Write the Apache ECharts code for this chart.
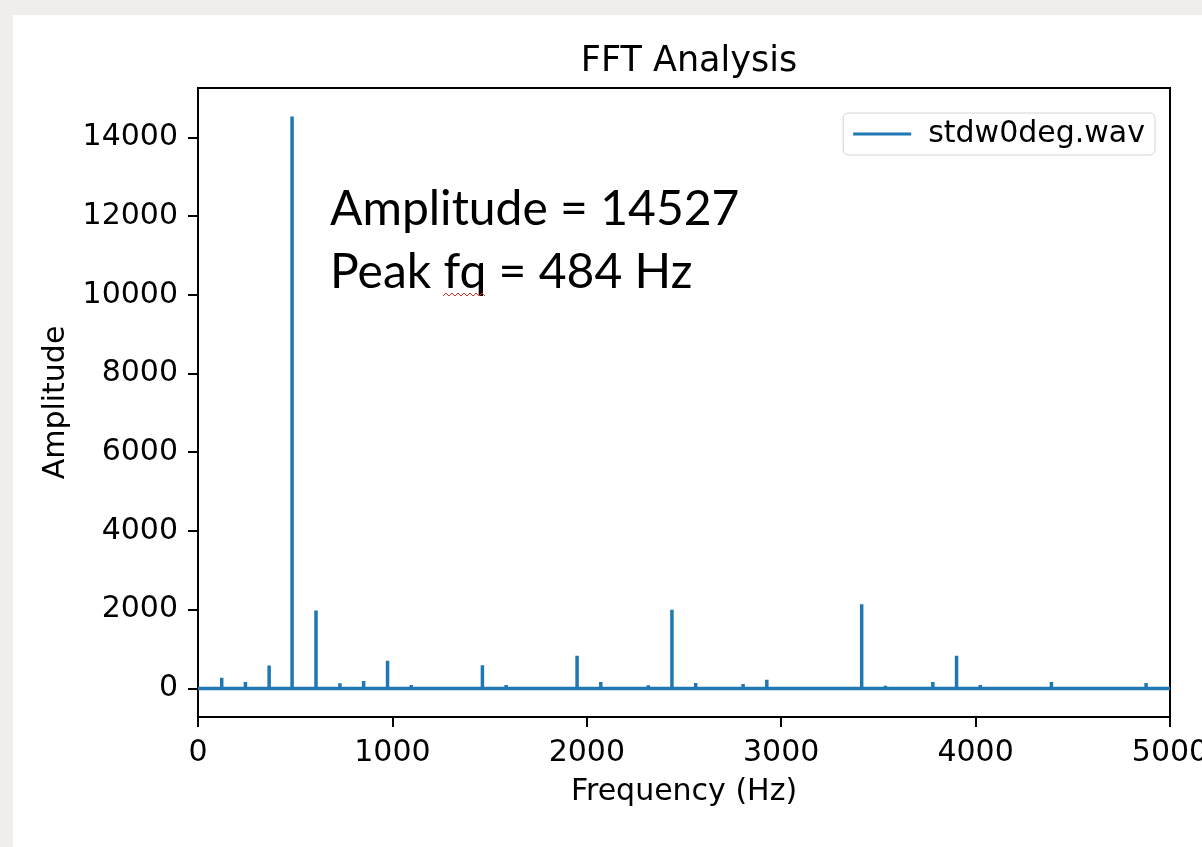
<!DOCTYPE html>
<html>
<head>
<meta charset="utf-8">
<title>FFT Analysis</title>
<script src="https://cdn.jsdelivr.net/npm/echarts@6/dist/echarts.min.js"></script>
<style>
  html, body { margin: 0; padding: 0; }
  #chart { width: 1202px; height: 847px; }
</style>
</head>
<body>
<div id="chart"></div>
<script>
// peak frequencies (Hz) and their amplitudes
const peakFreqs = [122, 244, 366, 484, 607, 730, 852, 975, 1097, 1463, 1585, 1829, 1950, 2072,
  2316, 2438, 2560, 2804, 2926, 3048, 3292, 3414, 3536, 3780, 3902, 4024, 4390, 4877];
const peakAmps = [270, 160, 580, 14527, 1980, 130, 190, 700, 90, 590, 90, 50, 830, 160,
  80, 2000, 140, 110, 220, 50, 40, 2140, 70, 160, 830, 90, 160, 140];
const freqRange = [0, 5000];
const ampRange = [-726, 15253];
const seriesName = 'stdw0deg.wav';
const noteLines = ['Amplitude = 14527', 'Peak fq = 484 Hz'];

// each peak is a vertical stroke rising from the zero line
const spectrum = [[freqRange[0], 0]];
peakFreqs.forEach((f, i) => {
  spectrum.push([f, 0], [f, peakAmps[i]], [f, 0]);
});
spectrum.push([freqRange[1], 0]);

const chart = echarts.init(document.getElementById('chart'), null, { renderer: 'canvas' });
const axisFont = { fontFamily: 'DejaVu Sans', fontSize: 30, color: '#000' };
const plain = v => String(v);

chart.setOption({
  backgroundColor: '#efeeea',
  animation: false,
  title: {
    text: 'FFT Analysis',
    left: 684,
    top: 39,
    textAlign: 'center',
    textStyle: { fontFamily: 'DejaVu Sans', fontSize: 35, fontWeight: 'normal', color: '#000' }
  },
  legend: {
    data: [{ name: seriesName, icon: 'rect' }],
    right: 47,
    top: 113,
    padding: [6, 10, 6, 10],
    itemWidth: 58,
    itemHeight: 3,
    backgroundColor: '#fff',
    borderColor: '#d4d4d4',
    borderWidth: 1,
    borderRadius: 5,
    textStyle: { fontFamily: 'DejaVu Sans', fontSize: 30, color: '#000', padding: [0, 0, 0, 12] }
  },
  grid: {
    left: 198,
    right: 32,
    top: 88,
    bottom: 130,
    outerBoundsMode: 'none',
    containLabel: false,
    show: true,
    backgroundColor: '#fff',
    borderColor: '#000',
    borderWidth: 2
  },
  xAxis: {
    type: 'value',
    min: freqRange[0],
    max: freqRange[1],
    interval: 1000,
    name: 'Frequency (Hz)',
    nameLocation: 'middle',
    nameGap: 60,
    nameTextStyle: axisFont,
    axisLine: { onZero: false, lineStyle: { color: '#000', width: 2 } },
    axisTick: { length: 10, lineStyle: { color: '#000', width: 2 } },
    axisLabel: Object.assign({ margin: 21, formatter: plain }, axisFont),
    splitLine: { show: false }
  },
  yAxis: {
    type: 'value',
    min: ampRange[0],
    max: ampRange[1],
    splitNumber: 8,
    name: 'Amplitude',
    nameLocation: 'middle',
    nameRotate: 90,
    nameGap: 113,
    nameTextStyle: axisFont,
    axisLine: { lineStyle: { color: '#000', width: 2 } },
    axisTick: { length: 10, lineStyle: { color: '#000', width: 2 } },
    axisLabel: Object.assign({ margin: 20, showMinLabel: false, showMaxLabel: false, formatter: plain }, axisFont),
    splitLine: { show: false }
  },
  graphic: [
    { type: 'rect', z: -10, shape: { x: 13, y: 15, width: 1189, height: 832 }, style: { fill: '#fff' } },
    {
      type: 'text', z: 100, left: 330, top: 178,
      style: { text: noteLines.join('\n'), font: '48px Lato', lineHeight: 63, fill: '#000' }
    },
    {
      type: 'polyline', z: 100,
      shape: { points: [[443, 296], [446, 293], [449, 296], [452, 293], [455, 296], [458, 293], [461, 296],
        [464, 293], [467, 296], [470, 293], [473, 296], [476, 293], [479, 296], [482, 293], [485, 296]] },
      style: { stroke: '#e03030', lineWidth: 1, fill: null }
    }
  ],
  series: [{
    name: seriesName,
    type: 'line',
    data: spectrum,
    symbol: 'none',
    lineStyle: { color: '#1f77b4', width: 3.5 },
    itemStyle: { color: '#1f77b4' }
  }]
});
</script>
</body>
</html>
